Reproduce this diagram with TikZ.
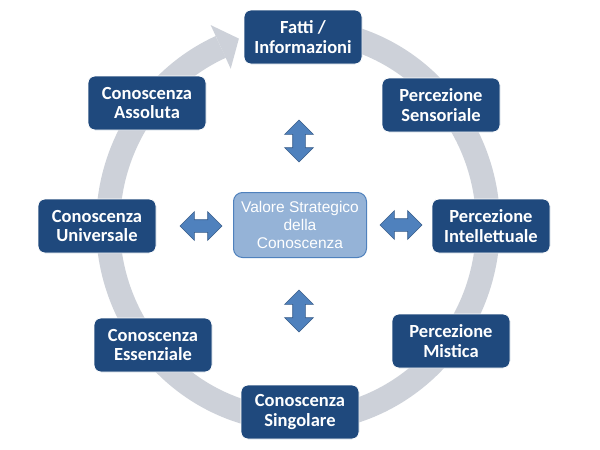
\documentclass[tikz,border=0pt]{standalone}
\usepackage{fontspec}
\setmainfont{Carlito}
\newfontfamily\arialf{Liberation Sans}
\usetikzlibrary{shapes.arrows}
\definecolor{boxblue}{RGB}{31,73,125}
\definecolor{ringgray}{RGB}{205,209,217}
\definecolor{lightblue}{RGB}{149,179,215}
\definecolor{midblue}{RGB}{79,129,189}
\definecolor{edgeblue}{RGB}{56,93,138}
\tikzset{
  stage/.style={draw=white, line width=0.8pt, fill=boxblue, rounded corners=7pt,
    minimum width=118pt, minimum height=54pt, text=white, align=center,
    font=\fontsize{18.5}{19.5}\selectfont\bfseries, inner sep=0pt},
  core/.style={draw=midblue, line width=1pt, fill=lightblue, rounded corners=9pt,
    minimum width=133pt, minimum height=65pt, text=white, align=center,
    font=\arialf\fontsize{15.5}{18}\selectfont, inner sep=0pt},
  dblarrow/.style={double arrow, draw=edgeblue, line width=0.6pt, fill=midblue,
    minimum height=42pt, inner sep=6pt, double arrow head extend=8pt},
  ring/.style={draw=ringgray, line width=24pt}
}
\begin{document}
\begin{tikzpicture}[x=1pt,y=-1pt]
\useasboundingbox (0,0) rectangle (600,450);
\fill[white] (0,0) rectangle (600,450);
% ring
\coordinate (rs) at (331.0,33.0);
\draw[ring] (rs) arc[start angle=-80, end angle=246, x radius=190, y radius=195] coordinate (re);
\fill[ringgray] (210.7,25.1) -- (238.9,38.6) -- (230.7,68.7) -- cycle;
% boxes
\node[stage] (fatti) at (303,37) {Fatti /\\Informazioni};
\node[stage] (sens) at (441,105) {Percezione\\Sensoriale};
\node[stage] (intel) at (491,226) {Percezione\\Intellettuale};
\node[stage] (mist) at (451,341) {Percezione\\Mistica};
\node[stage] (sing) at (300,412) {Conoscenza\\Singolare};
\node[stage] (ess) at (153,345) {Conoscenza\\Essenziale};
\node[stage] (univ) at (97,226) {Conoscenza\\Universale};
\node[stage] (ass) at (147,103) {Conoscenza\\Assoluta};
\node[core] (valore) at (300,225) {Valore Strategico\\della\\Conoscenza};
% double arrows
\node[dblarrow, rotate=90] (aup) at (299,141) {};
\node[dblarrow, rotate=90] (adown) at (299,311) {};
\node[dblarrow] (aleft) at (201,226) {};
\node[dblarrow] (aright) at (401,225) {};
\end{tikzpicture}
\end{document}
